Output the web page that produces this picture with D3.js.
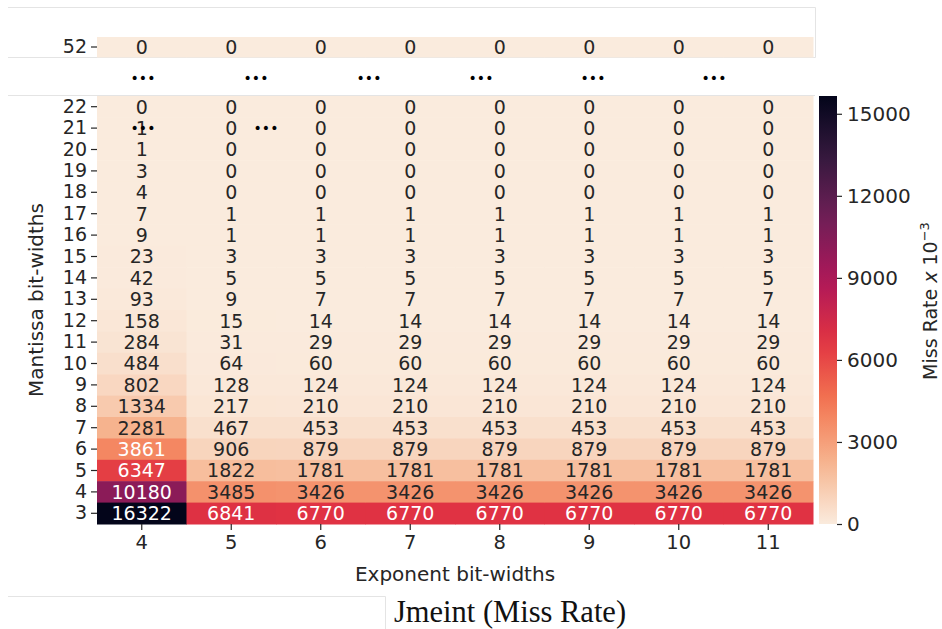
<!DOCTYPE html>
<html><head><meta charset="utf-8">
<script src="https://cdn.jsdelivr.net/npm/d3@7"></script>
<style>body{margin:0;background:#fff}svg{display:block}</style>
</head><body><svg id="c" width="942" height="629"></svg>
<script>
const exponents = [4, 5, 6, 7, 8, 9, 10, 11];
const mantissas = [22, 21, 20, 19, 18, 17, 16, 15, 14, 13, 12, 11, 10, 9, 8, 7, 6, 5, 4, 3];
// values per exponent column, ordered by mantissa 22 -> 3
const exp4 = [0, 1, 1, 3, 4, 7, 9, 23, 42, 93, 158, 284, 484, 802, 1334, 2281, 3861, 6347, 10180, 16322];
const exp5 = [0, 0, 0, 0, 0, 1, 1, 3, 5, 9, 15, 31, 64, 128, 217, 467, 906, 1822, 3485, 6841];
const exp6 = [0, 0, 0, 0, 0, 1, 1, 3, 5, 7, 14, 29, 60, 124, 210, 453, 879, 1781, 3426, 6770];
const exp7 = [0, 0, 0, 0, 0, 1, 1, 3, 5, 7, 14, 29, 60, 124, 210, 453, 879, 1781, 3426, 6770];
const exp8 = [0, 0, 0, 0, 0, 1, 1, 3, 5, 7, 14, 29, 60, 124, 210, 453, 879, 1781, 3426, 6770];
const exp9 = [0, 0, 0, 0, 0, 1, 1, 3, 5, 7, 14, 29, 60, 124, 210, 453, 879, 1781, 3426, 6770];
const exp10 = [0, 0, 0, 0, 0, 1, 1, 3, 5, 7, 14, 29, 60, 124, 210, 453, 879, 1781, 3426, 6770];
const exp11 = [0, 0, 0, 0, 0, 1, 1, 3, 5, 7, 14, 29, 60, 124, 210, 453, 879, 1781, 3426, 6770];
const mantissa52 = [0, 0, 0, 0, 0, 0, 0, 0];
const colorTicks = [0, 3000, 6000, 9000, 12000, 15000];
const colorMax = 15650;

const columns = [exp4, exp5, exp6, exp7, exp8, exp9, exp10, exp11];
const cells = [];
exponents.forEach((e, i) => mantissas.forEach((m, j) => cells.push({e, m, v: columns[i][j]})));
const cells52 = exponents.map((e, i) => ({e, m: 52, v: mantissa52[i]}));

// rocket_r colormap
const rocket = ["#03051a", "#35193e", "#701f57", "#ad1759", "#e13342", "#f37651", "#f6b48f", "#faebdd"];
const cmap = d3.scaleLinear().domain(d3.range(8).map(i => i / 7)).range(rocket.slice().reverse()).interpolate(d3.interpolateRgb).clamp(true);
const color = v => cmap(Math.min(v / colorMax, 1));
function lum(c) {
  const r = d3.rgb(c);
  const f = x => { x /= 255; return x <= 0.03928 ? x / 12.92 : Math.pow((x + 0.055) / 1.055, 2.4); };
  return 0.2126 * f(r.r) + 0.7152 * f(r.g) + 0.0722 * f(r.b);
}

const svg = d3.select("#c");
const FONT = "DejaVu Sans, sans-serif";
const dark = "#262626";

// crop frame lines
const frame = svg.append("g").attr("stroke", "#e4e4e4").attr("stroke-width", 1).attr("fill", "none");
frame.append("path").attr("d", "M8,7.5H815.5V57.5H8");
frame.append("path").attr("d", "M8,95.5H815");
frame.append("path").attr("d", "M8,596.5H385.5V629");

const x = d3.scaleBand().domain(exponents).range([97, 813]);
const y = d3.scaleBand().domain(mantissas).range([96, 524]);
const y52 = d3.scaleBand().domain([52]).range([37, 57]);

function drawCells(data, ys) {
  const g = svg.append("g");
  g.selectAll("rect").data(data).join("rect")
    .attr("x", d => x(d.e)).attr("y", d => ys(d.m))
    .attr("width", x.bandwidth() + 0.5).attr("height", ys.bandwidth() + 0.5)
    .attr("fill", d => color(d.v));
  g.selectAll("text").data(data).join("text")
    .attr("x", d => x(d.e) + x.bandwidth() / 2).attr("y", d => ys(d.m) + ys.bandwidth() / 2)
    .attr("dy", "0.36em").attr("text-anchor", "middle")
    .attr("font-family", FONT).attr("font-size", 19)
    .attr("fill", d => lum(color(d.v)) < 0.39 ? "#ffffff" : dark)
    .text(d => d.v);
}
drawCells(cells, y);
drawCells(cells52, y52);

function styleAxis(size) {
  return g => {
    g.select(".domain").remove();
    g.selectAll(".tick line").attr("stroke", dark).attr("stroke-width", 1.2);
    g.selectAll(".tick text").attr("font-family", FONT).attr("font-size", size).attr("fill", dark);
  };
}
svg.append("g").attr("transform", "translate(97,0)")
  .call(d3.axisLeft(y).tickSize(6).tickPadding(4)).call(styleAxis(19));
svg.append("g").attr("transform", "translate(97,0)")
  .call(d3.axisLeft(y52).tickSize(6).tickPadding(4)).call(styleAxis(19));
svg.append("g").attr("transform", "translate(0,524)")
  .call(d3.axisBottom(x).tickSize(6).tickPadding(5)).call(styleAxis(19.5));

// ellipsis markers
const dotsX = [143, 256, 369, 481, 593, 714];
svg.append("g").selectAll("text").data(dotsX).join("text")
  .attr("x", d => d).attr("y", 78).attr("dy", "0.36em").attr("text-anchor", "middle")
  .attr("font-family", FONT).attr("font-size", 14).attr("fill", "#000").text("•••");
svg.append("g").selectAll("text").data([143, 266]).join("text")
  .attr("x", d => d).attr("y", y(21) + y.bandwidth() / 2).attr("dy", "0.36em").attr("text-anchor", "middle")
  .attr("font-family", FONT).attr("font-size", 14).attr("fill", "#000").text("•••");

// axis titles
svg.append("text").attr("x", 455).attr("y", 581).attr("text-anchor", "middle")
  .attr("font-family", FONT).attr("font-size", 20).attr("fill", dark).text("Exponent bit-widths");
svg.append("text").attr("transform", "translate(43,300) rotate(-90)").attr("text-anchor", "middle")
  .attr("font-family", FONT).attr("font-size", 20).attr("fill", dark).text("Mantissa bit-widths");

// colorbar
const cb = d3.scaleLinear().domain([0, colorMax]).range([524, 96]);
const defs = svg.append("defs");
const grad = defs.append("linearGradient").attr("id", "cbg").attr("x1", 0).attr("y1", 1).attr("x2", 0).attr("y2", 0);
d3.range(0, 1.0001, 0.05).forEach(t => grad.append("stop").attr("offset", t).attr("stop-color", cmap(t)));
svg.append("rect").attr("x", 819).attr("y", 96).attr("width", 18).attr("height", 428).attr("fill", "url(#cbg)");
svg.append("g").attr("transform", "translate(837,0)")
  .call(d3.axisRight(cb).tickValues(colorTicks).tickFormat(d3.format("d")).tickSize(5).tickPadding(5)).call(styleAxis(20));
svg.append("text").attr("transform", "translate(937,301) rotate(-90)").attr("text-anchor", "middle")
  .attr("font-family", FONT).attr("font-size", 19).attr("fill", dark)
  .call(t => { t.append("tspan").text("Miss Rate "); t.append("tspan").attr("font-style", "italic").text("x"); t.append("tspan").text(" 10");
    t.append("tspan").attr("dy", -8).attr("font-size", 13).text("−3"); });

// title
svg.append("text").attr("x", 510).attr("y", 622).attr("text-anchor", "middle")
  .attr("font-family", "Liberation Serif, Times New Roman, serif").attr("font-size", 30.5).attr("fill", "#111").text("Jmeint (Miss Rate)");
</script></body></html>
